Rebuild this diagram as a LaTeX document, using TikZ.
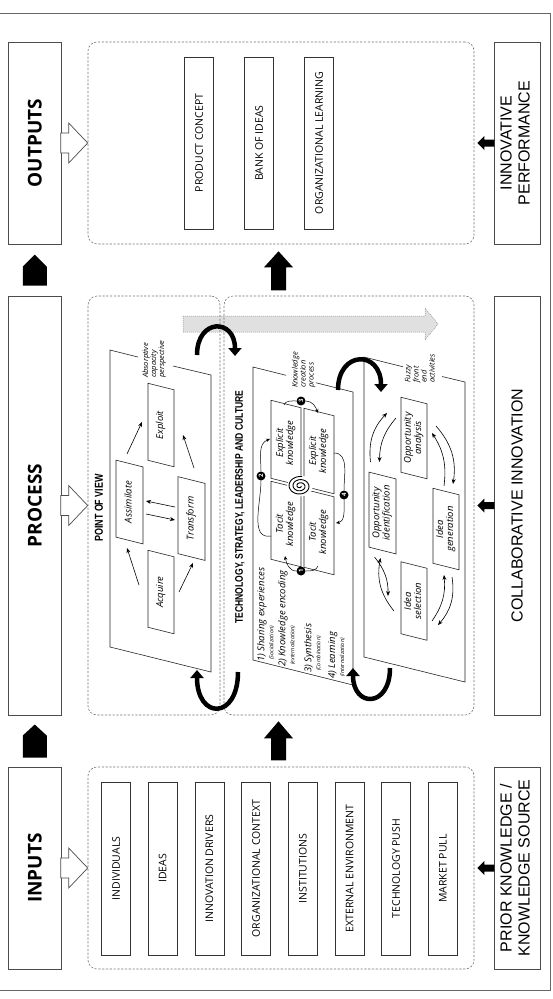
\documentclass[tikz,border=0pt]{standalone}
\usepackage{fontspec}
\setmainfont{Open Sans}
\newfontfamily\sidefont{Liberation Sans}
\newfontfamily\condfont[FakeStretch=0.78]{Liberation Sans}
\usetikzlibrary{arrows.meta}

\newcommand{\vtext}[1]{\rotatebox{90}{\begin{tabular}{@{}c@{}}#1\end{tabular}}}
\newcommand{\vltext}[1]{\rotatebox{90}{\begin{tabular}{@{}l@{}}#1\end{tabular}}}
\newcommand{\smallpar}[1]{{\fontsize{5.5}{5.5}\selectfont\hspace{2pt}#1}}

% slanted box: name, cx, cy, width, height, text
\newcommand{\slbox}[6]{%
  \node[slanttext] (#1) at (#2,#3) {\vtext{#6}};
  \draw[slantline] ({#2-#4/2},{#3-#5/2-#4/8}) -- ++(#4,{#4/4}) -- ++(0,#5)
    -- ++(-#4,{-#4/4}) -- cycle;
}

\tikzset{
  titlebox/.style={draw=black!70, line width=0.9pt, inner sep=0pt, minimum width=52.5pt,
    font=\bfseries\fontsize{19}{21}\selectfont},
  sidebox/.style={draw=black!70, line width=0.9pt, inner sep=0pt, minimum width=46pt,
    font=\sidefont\fontsize{16}{18}\selectfont},
  dashgroup/.style={draw=black!55, line width=0.6pt, dash pattern=on 2.2pt off 1.6pt,
    rounded corners=9pt, inner sep=0pt},
  itembox/.style={draw=black!80, line width=0.8pt, inner sep=0pt, minimum width=29pt,
    font=\fontsize{10.5}{12}\selectfont},
  slanttext/.style={inner sep=0pt, font=\itshape\fontsize{9.5}{10}\selectfont},
  slantline/.style={draw=black!85, line width=0.6pt},
  plane/.style={draw=black!85, line width=0.6pt},
  hollow/.style={draw=black!70, fill=white, line width=0.7pt},
  thinarrow/.style={draw=black, line width=0.6pt, -{Stealth[length=5pt,width=4pt]}},
  cyclearrow/.style={draw=black, line width=0.5pt},
  bigloop/.style={line width=4.5pt, -{Triangle[length=8pt,width=13pt]}},
  numdot/.style={circle, fill=black, text=white, inner sep=0pt, minimum size=9pt,
    font=\bfseries\fontsize{6}{6}\selectfont},
  smallnote/.style={inner sep=0pt, font=\itshape\fontsize{7.5}{8}\selectfont},
  entry/.style={inner sep=0pt, font=\itshape\fontsize{9.5}{9}\selectfont},
  headline/.style={inner sep=0pt, font=\condfont\bfseries\fontsize{11}{11}\selectfont},
}

\begin{document}
\begin{tikzpicture}[x=1pt, y=-1pt]
\useasboundingbox (0,0) rectangle (552,999);

% Rahmen
\draw[black!60, line width=0.9pt] (-2,13) -- (550,13) -- (550,990) -- (-2,990);

% Titel links
\node[titlebox, minimum height=202pt] (outputs) at (34.75,143) {\rotatebox{90}{OUTPUTS}};
\node[titlebox, minimum height=419pt] (process) at (34.75,505.5) {\rotatebox{90}{PROCESS}};
\node[titlebox, minimum height=202pt] (inputs) at (34.75,868) {\rotatebox{90}{INPUTS}};

% Titel rechts
\node[sidebox, minimum height=202pt] (perf) at (517,143) {\vtext{INNOVATIVE\\PERFORMANCE}};
\node[sidebox, minimum height=419pt] (collab) at (517,505.5) {\rotatebox{90}{COLLABORATIVE INNOVATION}};
\node[sidebox, minimum height=202pt] (prior) at (517,868) {\vtext{PRIOR KNOWLEDGE /\\KNOWLEDGE SOURCE}};

% grauer Pfeil
\draw[draw=black!45, fill=black!12, line width=0.5pt, dash pattern=on 1pt off 1pt]
  (183,316) -- (425,316) -- (425,308) -- (438,324) -- (425,340) -- (425,332) -- (183,332) -- cycle;

% Gruppen
\node[dashgroup, minimum width=386pt, minimum height=202pt] (outgroup) at (281,143) {};
\node[dashgroup, minimum width=132pt, minimum height=419pt] (procleft) at (154,505.5) {};
\node[dashgroup, minimum width=250pt, minimum height=419pt] (procright) at (349,505.5) {};
\node[dashgroup, minimum width=386pt, minimum height=202pt] (ingroup) at (281,868) {};

% Eingaben
\foreach \t [count=\i from 0] in {INDIVIDUALS, IDEAS, INNOVATION DRIVERS,
    ORGANIZATIONAL CONTEXT, INSTITUTIONS, EXTERNAL ENVIRONMENT, TECHNOLOGY PUSH, MARKET PULL}
  \node[itembox, minimum height=173pt] (in\i) at ({116+46.7*\i},868.5) {\rotatebox{90}{\t}};

% Ausgaben
\foreach \t [count=\i from 0] in {PRODUCT CONCEPT, BANK OF IDEAS, ORGANIZATIONAL LEARNING}
  \node[itembox, minimum height=172pt] (out\i) at ({199+60*\i},143) {\rotatebox{90}{\t}};

% hohle Pfeile
\foreach \a/\b in {outputs/outgroup, process/procleft, inputs/ingroup}
  \draw[hollow] (\b.west) -- ++(-19,-20) -- ++(0,10) -- ++(-8,0) -- ++(0,20)
    -- ++(8,0) -- ++(0,10) -- cycle;

% schwarze Pfeile rechts
\foreach \a/\b in {perf/outgroup, collab/procright, prior/ingroup}
  \fill (\b.east) ++(3,0) -- ++(7,-7) -- ++(0,3.5) -- ++(10,0) -- ++(0,7)
    -- ++(-10,0) -- ++(0,3.5) -- cycle;

% schwarze Pfeile links
\fill (process.north) ++(-12,-10) -- ++(24,0) -- ++(0,-19) -- ++(-12,-12) -- ++(-12,12) -- cycle;
\fill (inputs.north) ++(-12,-9) -- ++(24,0) -- ++(0,-22) -- ++(-12,-11) -- ++(-12,11) -- cycle;

% schwarze Pfeile Mitte
\fill (outgroup.south) ++(-2.5,7) -- ++(14.5,16) -- ++(-7,0) -- ++(0,23) -- ++(-15,0)
  -- ++(0,-23) -- ++(-7,0) -- cycle;
\fill (procright.south -| outgroup.south) ++(-2.5,6) -- ++(14.5,17) -- ++(-7,0) -- ++(0,22)
  -- ++(-15,0) -- ++(0,-22) -- ++(-7,0) -- cycle;

% Ebene: absorptive capacity
\draw[plane] (138,357) -- (110,350) -- (110,647) -- (211,672) -- (211,375) -- (173,366);
\node[smallnote, anchor=south] (abscap) at (154.5,378) {\vltext{Absorptive\\capacity\\perspective}};
\node[headline] (pov) at (99,508) {\rotatebox{90}{\fontsize{11.5}{11.5}\selectfont POINT OF VIEW}};

\slbox{expl}{161}{425}{26}{77}{Exploit}
\slbox{assim}{129.5}{502}{27}{77}{Assimilate}
\slbox{trans}{191.5}{518.5}{27}{77}{Transform}
\slbox{acq}{161}{592}{26}{77}{Acquire}

\draw[thinarrow] ([shift={(-22,-7)}]acq.center) -- ([shift={(-2.5,46)}]assim.center);
\draw[thinarrow] ([shift={(18,0)}]acq.center) -- ([shift={(1.5,44.5)}]trans.center);
\draw[thinarrow] ([shift={(-2.5,-48)}]assim.center) -- ([shift={(-19,-3)}]expl.center);
\draw[thinarrow] ([shift={(2.5,-50.5)}]trans.center) -- ([shift={(22,10)}]expl.center);
\draw[thinarrow] ([shift={(-16.5,-11.5)}]trans.center) -- ([shift={(16.5,-1)}]assim.center);
\draw[thinarrow] ([shift={(16.5,12)}]assim.center) -- ([shift={(-16.5,1.5)}]trans.center);

% Ebene: knowledge creation
\node[headline] (tslc) at (240,507) {\rotatebox{90}{TECHNOLOGY, STRATEGY, LEADERSHIP AND CULTURE}};
\draw[plane] (286,375.25) -- (253,367) -- (253,660) -- (353,685) -- (353,392) -- (316,382.75);
\node[smallnote, anchor=south] (kcp) at (304,388) {\vltext{Knowledge\\creation\\process}};

\slbox{explA}{286}{443}{30}{78}{Explicit\\knowledge}
\slbox{tacitA}{286}{524}{30}{78}{Tacit\\knowledge}
\slbox{explB}{319}{451}{30}{78}{Explicit\\knowledge}
\slbox{tacitB}{319}{532}{30}{78}{Tacit\\knowledge}

\fill[white] (300,486) ellipse (13 and 10.5);
\draw[line width=0.9pt] plot[domain=0:1000, samples=150, variable=\t]
  ({300+(1+0.011*\t)*cos(\t)}, {486+0.8*(1+0.011*\t)*sin(\t)});

\node[numdot] (n1) at (301,571) {\rotatebox{90}{1}};
\node[numdot] (n2) at (261,476) {\rotatebox{90}{2}};
\node[numdot] (n3) at (301,401) {\rotatebox{90}{3}};
\node[numdot] (n4) at (344,495) {\rotatebox{90}{4}};

\draw[cyclearrow] ([shift={(-1,34)}]tacitB.center) to[out=-110, in=0] (n1);
\draw[cyclearrow, -{Stealth[length=4pt,width=3.5pt]}] (n1) to[out=180, in=-80] ([shift={(-1,32)}]tacitA.center);
\draw[cyclearrow] ([shift={(-15,12)}]tacitA.center) to[out=190, in=-90] (n2);
\draw[cyclearrow, -{Stealth[length=4pt,width=3.5pt]}] (n2) to[out=90, in=200] ([shift={(-16,-4)}]explA.center);
\draw[cyclearrow] ([shift={(-2,-38)}]explA.center) to[out=70, in=180] (n3);
\draw[cyclearrow, -{Stealth[length=4pt,width=3.5pt]}] (n3) to[out=0, in=110] ([shift={(-1,-38)}]explB.center);
\draw[cyclearrow] ([shift={(15,2)}]explB.center) to[out=0, in=90] (n4);
\draw[cyclearrow, -{Stealth[length=4pt,width=3.5pt]}] (n4) to[out=-90, in=10] ([shift={(17,-9)}]tacitB.center);

\node[entry, anchor=south west] (k1) at (257,662) {\vltext{1) Sharing experiences\\\smallpar{(Socialization)}}};
\node[entry, anchor=south west] (k2) at (278,667) {\vltext{2) Knowledge encoding\\\smallpar{(externalization)}}};
\node[entry, anchor=south west] (k3) at (304,673) {\vltext{3) Synthesis\\\smallpar{(Combination)}}};
\node[entry, anchor=south west] (k4) at (328,679) {\vltext{4) Learning\\\smallpar{(Internalization)}}};

% Ebene: fuzzy front end
\draw[plane] (403,366.75) -- (364,357) -- (364,657) -- (465,682) -- (465,382) -- (442,376.5);
\node[smallnote, anchor=south] (ffe) at (421,383) {\vltext{Fuzzy\\front\\end\\activities}};

\slbox{oppana}{414}{438}{26}{75}{Opportunity\\analysis}
\slbox{oppid}{382.5}{513}{27}{75}{Opportunity\\identification}
\slbox{ideagen}{446}{529}{26}{75}{Idea\\generation}
\slbox{ideasel}{414}{601}{26}{72}{Idea\\selection}

\draw[thinarrow] ([shift={(-12,-51)}]oppid.center) to[bend left=25] ([shift={(-27,-25)}]oppana.center);
\draw[thinarrow] ([shift={(-18,-20)}]oppana.center) to[bend right=20] ([shift={(-3,-51)}]oppid.center);
\draw[thinarrow] ([shift={(22,-12)}]oppana.center) to[bend left=25] ([shift={(7,-45)}]ideagen.center);
\draw[thinarrow] ([shift={(-2,-43)}]ideagen.center) to[bend right=20] ([shift={(18,-5)}]oppana.center);
\draw[thinarrow] ([shift={(6,48)}]ideagen.center) to[bend left=25] ([shift={(24,24)}]ideasel.center);
\draw[thinarrow] ([shift={(18,20)}]ideasel.center) to[bend right=20] ([shift={(-2,46)}]ideagen.center);
\draw[thinarrow] ([shift={(-20,10)}]ideasel.center) to[bend left=25] ([shift={(-2,45)}]oppid.center);
\draw[thinarrow] ([shift={(-8,44)}]oppid.center) to[bend left=20] ([shift={(-26,-5)}]ideasel.center);

% grosse Bogenpfeile
\coordinate (loopA) at (197,355);
\coordinate (loopB) at (238,672);
\coordinate (loopC) at (338,390);
\coordinate (loopD) at (390,668);
\draw[bigloop] (loopA) .. controls (197,318) and (235,318) .. (235,356);
\draw[bigloop] (loopB) .. controls (238,720) and (197,720) .. (197,670);
\draw[bigloop] (loopC) .. controls (338,350) and (381,350) .. (381,392);
\draw[bigloop] (loopD) .. controls (390,708) and (353,708) .. (353,668);

\end{tikzpicture}
\end{document}
